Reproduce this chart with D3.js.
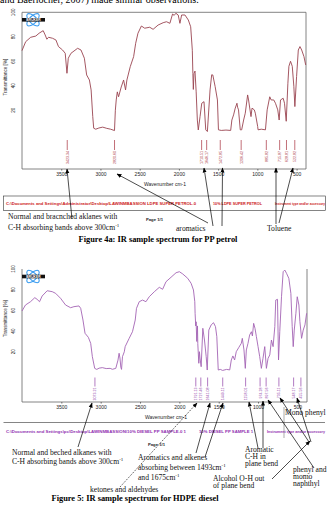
<!DOCTYPE html>
<html>
<head>
<meta charset="utf-8">
<script src="https://cdn.jsdelivr.net/npm/d3@7"></script>
<style>
  html, body { margin: 0; padding: 0; background: #fff; }
  svg { display: block; }
  .serif { font-family: "Liberation Serif", "Times New Roman", serif; }
  .sans { font-family: "Liberation Sans", Arial, sans-serif; }
</style>
</head>
<body>
<svg id="page" width="335" height="507"></svg>
<script>
// ---- data (wavenumber cm-1, transmittance %) ----
const petrolSpectrum = [
  [4000,68.7],[3953,76],[3889,79.6],[3824,80.6],[3782,82.9],[3730,85],[3705,81.5],[3683,78],
  [3662,79.6],[3611,78.8],[3568,77.4],[3535,72],[3483,69.2],[3449,66.5],[3427,50.2],[3410,62.5],
  [3376,66.5],[3291,70.6],[3248,69.2],[3205,62.5],[3176,48.8],[3141,44.7],[3119,36.6],[3098,14.8],
  [3086,5.3],[3060,4.5],[3020,5.5],[2971,6.2],[2920,5.2],[2870,4.5],[2821,3.4],[2810,20],
  [2799,28.4],[2785,35],[2769,31],[2735,39],[2705,44.7],[2680,36.6],[2663,44.7],[2620,55.6],
  [2577,63.8],[2551,74.7],[2522,82.9],[2478,88.8],[2436,87],[2372,87.8],[2329,86.1],[2265,89.6],
  [2201,91.5],[2158,92.3],[2115,91],[2081,98.6],[2060,97.5],[2039,99.2],[2009,97.8],[1987,91],
  [1965,97.8],[1923,97.8],[1880,93.7],[1850,88.2],[1829,69],[1822,50],[1816,37],[1808,50],
  [1795,52],[1780,35],[1765,12],[1753,3.9],[1730,15],[1709,25.7],[1680,27],[1658,4],
  [1637,2.6],[1603,36.6],[1582,49],[1568,48.8],[1538,39.3],[1509,28.4],[1496,4],[1460,3.5],
  [1400,3.8],[1340,3.5],[1325,12],[1303,16.2],[1282,21.7],[1260,25.7],[1252,22.5],[1240,20.3],
  [1218,4],[1200,4],[1175,12],[1154,17.6],[1124,32.5],[1112,28.4],[1081,14.8],[1068,21.7],
  [1039,20.3],[1026,17.6],[996,6.7],[991,4],[950,4.5],[897,4],[875,20.3],[842,31],
  [824,28.4],[791,28.4],[769,25.7],[740,20.3],[722,12],[705,28.4],[671,29.8],[654,25.7],
  [632,11],[611,42],[598,55.9],[577,60],[555,55.9],[535,39.6],[522,23],[500,47.5],
  [478,69.2],[457,72],[435,69.2],[406,63.8],[384,57]
];

const dieselSpectrum = [
  [4000,59.4],[3956,65.2],[3892,68.4],[3837,72.3],[3808,70.7],[3777,68.4],[3744,73.9],[3680,79],
  [3616,78.1],[3573,76.5],[3510,71.7],[3446,65.2],[3382,62.6],[3340,63.6],[3276,64.3],[3254,62],
  [3225,50.7],[3199,37.9],[3157,34],[3127,28.2],[3106,15.3],[3076,4],[3050,3],[3020,4.2],
  [2979,4.7],[2930,3.8],[2880,4],[2851,3.1],[2808,4],[2780,12],[2766,18.6],[2755,14],
  [2744,5],[2735,3],[2723,15.3],[2700,20],[2689,25],[2638,33],[2596,39.4],[2561,50.7],
  [2545,62],[2510,68.4],[2468,70],[2425,68.4],[2383,73.2],[2319,78],[2255,82.3],[2213,80.4],
  [2170,87.7],[2106,92],[2042,96.4],[2000,97.4],[1957,95.2],[1894,91],[1851,86.2],[1821,79.7],
  [1804,68.4],[1800,57.2],[1792,45],[1787,49],[1779,30],[1770,45],[1766,28],[1753,8.9],
  [1745,20.1],[1738,14],[1723,5.6],[1702,42.7],[1681,31.4],[1659,15.3],[1646,2.4],[1626,41],
  [1596,46],[1566,48.1],[1541,44.3],[1524,34.6],[1506,2.4],[1480,3],[1450,2],[1400,3],
  [1360,2.5],[1340,12.1],[1320,16],[1298,12.1],[1277,20.1],[1243,24.4],[1213,28.2],[1200,33],
  [1179,21.8],[1162,4],[1149,21.8],[1128,28.2],[1107,36.2],[1085,39.4],[1072,35.3],[1056,47.5],
  [1039,42.7],[1021,34.6],[1000,25],[979,15.3],[958,4],[937,13.7],[915,25],[894,4],
  [873,13.7],[851,17],[830,31.4],[809,25],[787,44.3],[775,70],[753,70.7],[740,12.1],
  [724,39.4],[702,73.2],[681,97.4],[660,99],[638,95.8],[609,91],[583,76.5],[566,44.3],
  [553,25],[540,41],[519,57.2],[502,73.2],[481,65.2],[468,49.1],[447,33],[426,41],
  [404,46],[383,57.2]
];

const petrolPeaks = [3423.34, 2820.60, 1710.51, 1646.17, 1472.85, 1206.42, 885.82, 715.87, 628.81, 522.82];
const dieselPeaks = [3073.21, 1791.13, 1727.46, 1641.08, 1449.11, 1158.01, 974.28, 897.56, 735.11, 548.17, 455.56];

const xTicks = [3500, 3000, 2500, 2000, 1500, 1000, 500];
const yTicks = [20, 40, 60, 80, 100];

const svg = d3.select("#page");

// arrow head
svg.append("defs").append("marker")
  .attr("id", "head")
  .attr("viewBox", "0 0 10 10")
  .attr("refX", 9).attr("refY", 5)
  .attr("markerWidth", 5).attr("markerHeight", 5)
  .attr("markerUnits", "userSpaceOnUse")
  .attr("orient", "auto")
  .append("path").attr("d", "M0,1 L10,5 L0,9 Z").attr("fill", "#000");

// text cut at the top of the page
svg.append("text").attr("class", "serif")
  .attr("x", 0).attr("y", 3).attr("font-size", 10)
  .text("and Baerlocher, 2007) made similar observations.");

function drawSpectrum(cfg) {
  const g = svg.append("g");
  const x = d3.scaleLinear().domain([4000, cfg.wEnd]).range([cfg.left, cfg.right]);
  const y = d3.scaleLinear().domain([cfg.yMin, 100]).range([cfg.bottom, cfg.top]);

  // frame
  const frame = g.append("g").attr("stroke", "#666").attr("stroke-width", 0.8).attr("fill", "none");
  frame.append("line").attr("x1", cfg.left).attr("x2", cfg.left).attr("y1", cfg.top).attr("y2", cfg.bottom);
  frame.append("line").attr("x1", cfg.right).attr("x2", cfg.right).attr("y1", cfg.top).attr("y2", cfg.bottom);
  frame.append("line").attr("x1", cfg.left).attr("x2", cfg.right).attr("y1", cfg.bottom).attr("y2", cfg.bottom);
  if (cfg.topLine) {
    frame.append("line").attr("x1", cfg.left).attr("x2", cfg.right).attr("y1", cfg.top).attr("y2", cfg.top);
  }

  // x axis
  const xa = g.append("g").attr("transform", `translate(0,${cfg.bottom})`)
    .call(d3.axisBottom(x).tickValues(xTicks).tickSize(1.5).tickPadding(2).tickFormat(d3.format("d")));
  xa.select(".domain").remove();
  xa.selectAll("line").attr("stroke", "#666");
  xa.selectAll("text").attr("class", "sans").attr("font-size", 5).attr("fill", "#222");

  g.append("text").attr("class", "sans")
    .attr("x", cfg.xLabelX).attr("y", cfg.bottom + 17)
    .attr("text-anchor", "middle").attr("font-size", 5).attr("fill", "#222")
    .text("Wavenumber cm-1");

  // y tick labels (rotated like the instrument print)
  g.selectAll(".ytick").data(yTicks).join("text")
    .attr("class", "sans")
    .attr("transform", d => `translate(${cfg.left - 7},${y(d)}) rotate(-90)`)
    .attr("text-anchor", "middle").attr("font-size", 4.6).attr("fill", "#222")
    .text(d => d);

  g.append("text").attr("class", "sans")
    .attr("transform", `translate(${cfg.left - 15},${y(cfg.yLabelAt)}) rotate(-90)`)
    .attr("text-anchor", "middle").attr("font-size", 4.6).attr("fill", "#222")
    .text("Transmittance [%]");

  // spectrum
  g.append("path").datum(cfg.data)
    .attr("fill", "none").attr("stroke", cfg.color).attr("stroke-width", 0.9)
    .attr("stroke-linejoin", "round")
    .attr("d", d3.line().x(d => x(d[0])).y(d => y(d[1])));

  // peak picks
  const pk = g.selectAll(".peak").data(cfg.peaks).join("g")
    .attr("transform", d => `translate(${x(d)},0)`);
  pk.append("line")
    .attr("y1", cfg.pickTop).attr("y2", cfg.pickTop + cfg.pickLen)
    .attr("stroke", cfg.pickColor).attr("stroke-width", 0.7);
  pk.append("text").attr("class", "sans")
    .attr("transform", `translate(1.5,${cfg.pickTop + cfg.pickLen + 1}) rotate(-90)`)
    .attr("text-anchor", "end").attr("font-size", 3.6).attr("fill", cfg.pickColor)
    .text(d => d.toFixed(2));

  // instrument logo
  const lg = g.append("g").attr("transform", `translate(${cfg.left + 11},${cfg.top + 7.5})`);
  [45, -45].forEach(a => {
    lg.append("ellipse").attr("rx", 8).attr("ry", 3.6)
      .attr("transform", `rotate(${a})`)
      .attr("fill", "none").attr("stroke", "#3a9cf0").attr("stroke-width", 1.1);
  });
  lg.append("rect").attr("x", -11).attr("y", -1.8).attr("width", 23).attr("height", 3.6).attr("fill", "#111");
  lg.append("text").attr("class", "sans").attr("x", 0.5).attr("y", 1.2)
    .attr("text-anchor", "middle").attr("font-size", 3.4).attr("font-weight", "bold").attr("fill", "#fff")
    .text("BRUKER");

  return { x, y };
}

drawSpectrum({
  data: petrolSpectrum, peaks: petrolPeaks, color: "#9a4450", pickColor: "#a8303e",
  left: 22, right: 306, top: 12.3, bottom: 169, wEnd: 380, yMin: -28,
  topLine: true, pickTop: 140, pickLen: 10, xLabelX: 165, yLabelAt: 47
});

drawSpectrum({
  data: dieselSpectrum, peaks: dieselPeaks, color: "#a464b4", pickColor: "#9040a8",
  left: 22, right: 307, top: 269, bottom: 402, wEnd: 378, yMin: -28.5,
  topLine: false, pickTop: 377.5, pickLen: 9, xLabelX: 166, yLabelAt: 52
});

// ---- printout strips ----
function strip(y, color, parts) {
  parts.forEach(p => {
    svg.append("text").attr("class", "sans")
      .attr("x", p[0]).attr("y", y).attr("font-size", 3.6).attr("font-weight", "bold")
      .attr("textLength", p[1]).attr("lengthAdjust", "spacingAndGlyphs")
      .attr("fill", color).text(p[2]);
  });
}
svg.append("rect").attr("x", 3.5).attr("y", 196).attr("width", 322).attr("height", 14.5)
  .attr("fill", "none").attr("stroke", "#333").attr("stroke-width", 0.6);
strip(205, "#cc2020", [
  [6, 190, "C:\\Documents and Settings\\Administrator\\Desktop\\LAWINMBASSION LDPE SUPER PETROL.0"],
  [213, 49, "10% LDPE SUPER PETROL"],
  [275, 50, "Instrument type and/or accessory"]
]);
svg.append("text").attr("class", "sans").attr("x", 146).attr("y", 221)
  .attr("font-size", 4.2).attr("font-weight", "bold").attr("fill", "#222").text("Page 1/1");

svg.append("line").attr("x1", 3.5).attr("x2", 325).attr("y1", 422.5).attr("y2", 422.5)
  .attr("stroke", "#333").attr("stroke-width", 0.6);
svg.append("line").attr("x1", 284).attr("x2", 284).attr("y1", 407).attr("y2", 438)
  .attr("stroke", "#555").attr("stroke-width", 0.5);
strip(433, "#9030b0", [
  [6, 180, "C:\\Documents and Settings\\pc\\Desktop\\LAWINMBASSION\\10% DIESEL PP SAMPLE.0 1"],
  [199, 54, "10% DIESEL PP SAMPLE 1"],
  [267, 58, "Instrument type and/or accessory"]
]);
svg.append("text").attr("class", "sans").attr("x", 148).attr("y", 445.5)
  .attr("font-size", 4.2).attr("font-weight", "bold").attr("fill", "#222").text("Page 1/1");

// ---- annotations ----
function note(x, y, txt, sup) {
  const t = svg.append("text").attr("class", "serif")
    .attr("x", x).attr("y", y).attr("font-size", 7.6).attr("fill", "#111").text(txt);
  if (sup) t.append("tspan").attr("dy", -3).attr("font-size", 5).text(sup);
}
function arrow(x1, y1, x2, y2, dashed) {
  svg.append("line")
    .attr("x1", x1).attr("y1", y1).attr("x2", x2).attr("y2", y2)
    .attr("stroke", "#000").attr("stroke-width", 0.7)
    .attr("stroke-dasharray", dashed ? "1.2,1.2" : null)
    .attr("marker-end", "url(#head)");
}

note(8, 218.5, "Normal and bracnched aklanes with");
note(8, 230, "C-H absorbing bands above 300cm", "-1");
note(176, 230.5, "aromatics");
note(267, 230.5, "Toluene");
svg.append("text").attr("class", "serif").attr("x", 158).attr("y", 241.5)
  .attr("text-anchor", "middle").attr("font-size", 8.4).attr("font-weight", "bold")
  .text("Figure 4a: IR sample spectrum for PP petrol");

arrow(72, 219, 67, 169);
arrow(208, 223, 117, 174);
arrow(213, 226, 204, 168);
arrow(222, 226, 222.5, 168);
arrow(276, 224, 276, 168);
arrow(279, 223, 293, 168);

note(285, 414.5, "Mono phenyl");
note(12, 454.5, "Normal and beched alkanes with");
note(12, 464, "C-H absorbing bands above 300cm", "-1");
note(138, 459.5, "Aromatics and alkenes");
note(138, 469.5, "absorbing between 1493cm", "-1");
note(138, 479.5, "and 1675cm", "-1");
note(90, 491.5, "ketones and aldehydes");
note(245, 452, "Aromatic");
note(245, 459, "C-H in");
note(245, 466, "plane bend");
note(213, 480.5, "Alcohol O-H out");
note(213, 487.5, "of plane bend");
note(293, 471.5, "phenyl and");
note(293, 478.5, "momo");
note(293, 485.5, "naphthyl");
svg.append("text").attr("class", "serif").attr("x", 135).attr("y", 501)
  .attr("text-anchor", "middle").attr("font-size", 8.4).attr("font-weight", "bold")
  .text("Figure 5: IR sample spectrum for HDPE diesel");

arrow(78, 447, 92, 403);
arrow(120, 487, 197, 403, true);
arrow(196, 453, 210, 403);
arrow(205, 457, 223, 403);
arrow(258, 448, 249, 402);
arrow(263, 448, 263, 401);
arrow(272, 479, 310, 441);
arrow(314, 468, 268, 400);
arrow(309, 442, 280, 398);
arrow(311, 442, 297, 398);
</script>
</body>
</html>
